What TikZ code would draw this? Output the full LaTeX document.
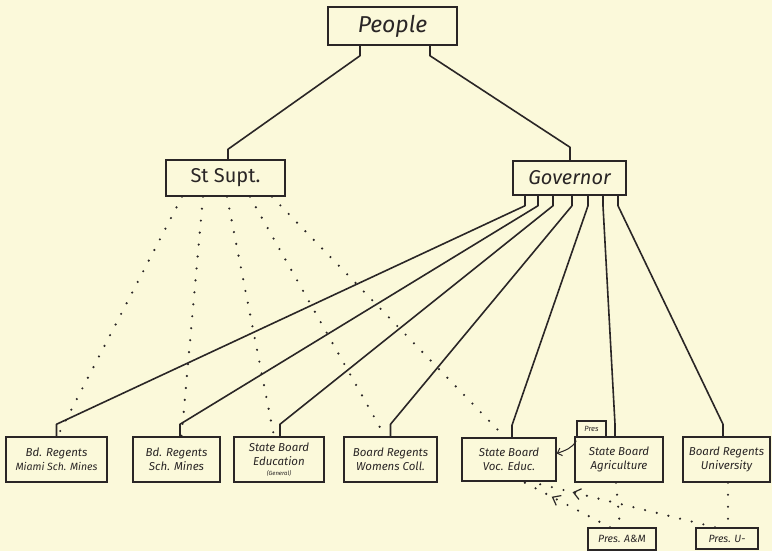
\documentclass[tikz,border=0pt]{standalone}
\usepackage{fontspec}
\newfontfamily\handfont{Fira Sans}
\usetikzlibrary{positioning,calc,arrows.meta,decorations.markings}
\definecolor{paper}{RGB}{251,249,218}
\definecolor{ink}{RGB}{42,38,38}

\tikzset{
  office/.style={draw=ink, line width=1.5pt, minimum height=45pt, inner sep=1pt,
    align=center, text=ink, font=\handfont\itshape\fontsize{11.5}{14}\selectfont},
  wire/.style={draw=ink, line width=1.6pt, line join=round},
  dots/.style={draw=ink, line width=2.4pt, line cap=round, dash pattern=on 0pt off 12pt},
  backmark/.style={postaction={decorate, decoration={markings,
    mark=at position #1 with {\arrow[ink, line width=1.2pt, solid]{Straight Barb[length=7pt,width=11pt]}}}}},
}

\begin{document}
\begin{tikzpicture}[x=1pt, y=-1pt]
  \fill[paper] (0,0) rectangle (772,551);

  % top of the chart
  \node[office, minimum width=129pt, minimum height=38pt, font=\handfont\itshape\fontsize{23}{25}\selectfont] (people) at (392.5,26) {People};
  \node[office, minimum width=119pt, minimum height=36pt, font=\handfont\fontsize{20}{22}\selectfont] (supt) at (225.5,178) {St Supt.};
  \node[office, minimum width=113pt, minimum height=34pt, font=\handfont\itshape\fontsize{20}{22}\selectfont] (gov) at (569.5,178) {Governor};

  % boards
  \node[office, minimum width=101pt] (miami) at (56.5,459.5) {Bd. Regents\\{\fontsize{10.5}{13}\selectfont Miami Sch. Mines}};
  \node[office, minimum width=87pt] (mines) at (176.5,459.5) {Bd. Regents\\Sch. Mines};
  \node[office, minimum width=90pt] (educ) at (279,459.5) {State Board\\Education\\[-4pt]{\fontsize{6}{7}\selectfont (General)}};
  \node[office, minimum width=93pt] (women) at (390.5,459.5) {Board Regents\\Womens Coll.};
  \node[office, minimum width=94pt, minimum height=43pt] (voc) at (509,459.5) {State Board\\Voc. Educ.};
  \node[office, minimum width=88pt] (agri) at (619,459.5) {State Board\\Agriculture};
  \node[office, minimum width=87pt] (univ) at (726.5,459.5) {Board Regents\\University};

  % presidents
  \node[office, minimum width=29pt, minimum height=16pt, font=\handfont\itshape\fontsize{7.5}{8}\selectfont] (pres) at (591.5,429) {Pres};
  \node[office, minimum width=68pt, minimum height=22pt, font=\handfont\itshape\fontsize{10.5}{12}\selectfont] (presam) at (622,539) {Pres. A\&M};
  \node[office, minimum width=62pt, minimum height=21pt, font=\handfont\itshape\fontsize{10.5}{12}\selectfont] (presu) at (727,538.5) {Pres. U-};

  % people elect
  \draw[wire] ([xshift=-32.5pt]people.south) -- ++(0,10) -- ([xshift=2.5pt,yshift=10pt]supt.north) -- ([xshift=2.5pt]supt.north);
  \draw[wire] ([xshift=37.5pt]people.south) -- ++(0,10) -- ([xshift=0.5pt,yshift=13pt]gov.north) -- ([xshift=0.5pt]gov.north);

  % governor appoints
  \foreach \gx/\dest/\dx in {-44.5/miami/0, -31.5/mines/3.5, -16.5/educ/1, 2.5/women/0,
                              18.5/voc/3, 33.5/agri/-4, 48.5/univ/-3.5}
    \draw[wire] ([xshift=\gx pt]gov.south) -- ++(0,10) -- ([xshift=\dx pt, yshift=12pt]\dest.north) -- ([xshift=\dx pt]\dest.north);

  % superintendent sits on
  \foreach \sx/\dest/\dx in {-43.5/miami/1, -22.5/mines/5, 1.5/educ/-5, 24.5/women/-5.5, 46.5/voc/-4}
    \draw[dots] ([xshift=\sx pt]supt.south) -- ([xshift=\dx pt]\dest.north);

  % presidents and the boards
  \draw[dots] ([xshift=-3pt]agri.south) -- ([xshift=-2pt]presam.north);
  \draw[dots] ([xshift=1.5pt]univ.south) -- ([xshift=1pt]presu.north);
  \draw[dots, backmark=0.67] ([xshift=-12pt]presam.north) -- ([xshift=14pt]voc.south);
  \draw[dots, backmark=0.77] ([xshift=-12pt]presu.north) -- ([xshift=21pt]voc.south);
  \draw[wire, line width=1pt, -{Straight Barb[length=4pt]}] ([yshift=-3pt]pres.south west) to[out=240, in=20] ([yshift=6pt]voc.east);
\end{tikzpicture}
\end{document}
